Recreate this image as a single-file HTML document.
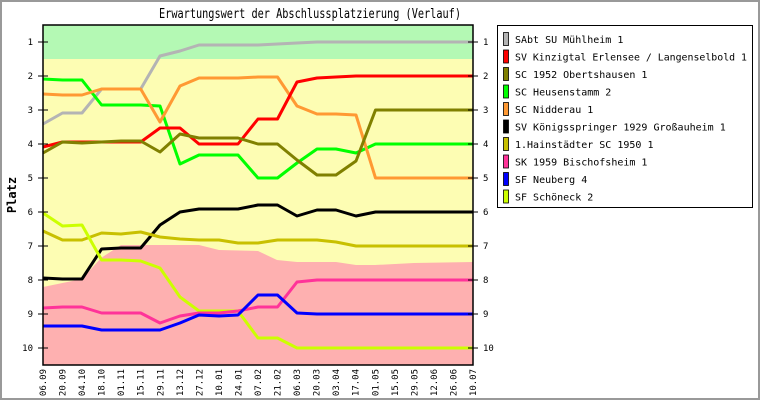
<!DOCTYPE html>
<html><head><meta charset="utf-8"><style>
html,body{margin:0;padding:0;background:#fff}
svg{display:block;font-family:"DejaVu Sans Mono","Liberation Mono",monospace}
</style></head><body>
<svg width="760" height="400" viewBox="0 0 760 400" xmlns="http://www.w3.org/2000/svg">
<rect x="1" y="1" width="758" height="398" fill="#fff" stroke="#999" stroke-width="2"/>
<text x="159" y="18" font-size="13" textLength="302" lengthAdjust="spacingAndGlyphs">Erwartungswert der Abschlussplatzierung (Verlauf)</text>
<rect x="43" y="25" width="430" height="340" fill="#fdfdb3"/>
<rect x="43" y="25" width="430" height="34" fill="#b4f9b4"/>
<polygon fill="#feb0b0" points="43,287 82,279 101,258 121,245 199,245 219,250 258,251 277,260 297,262 336,262 356,265 375,265 414,263 473,262 473,365 43,365"/>
<g fill="none" stroke-width="3" stroke-linejoin="round">
<polyline stroke="#b4b4b4" points="43,124 62.5,113 82,113 101.6,89 121,89 140.7,89 160,56 180,51 199,45 219,45 238,45 258,45 277.5,44 297,43 317,42 336,42 356,42 375.5,42 395,42 414.5,42 434,42 453.5,42 473,42"/>
<polyline stroke="#00ff00" points="43,79 62.5,80 82,80 101.6,105 121,105 140.7,105 160,106 180,164 199,155 219,155 238,155 258,178 277.5,178 297,163 317,149 336,149 356,153 375.5,144 395,144 414.5,144 434,144 453.5,144 473,144"/>
<polyline stroke="#ff9933" points="43,94 62.5,95 82,95 101.6,89 121,89 140.7,89 160,122 180,86 199,78 219,78 238,78 258,77 277.5,77 297,106 317,114 336,114 356,115 375.5,178 395,178 414.5,178 434,178 453.5,178 473,178"/>
<polyline stroke="#ff0000" points="43,147 62.5,142 82,142 101.6,142 121,142 140.7,142 160,128 180,128 199,144 219,144 238,144 258,119 277.5,119 297,82 317,78 336,77 356,76 375.5,76 395,76 414.5,76 434,76 453.5,76 473,76"/>
<polyline stroke="#808000" points="43,153 62.5,142 82,143 101.6,142 121,141 140.7,141 160,152 180,134 199,138 219,138 238,138 258,144 277.5,144 297,160 317,175 336,175 356,161 375.5,110 395,110 414.5,110 434,110 453.5,110 473,110"/>
<polyline stroke="#000000" points="43,278 62.5,279 82,279 101.6,249 121,248 140.7,248 160,225 180,212 199,209 219,209 238,209 258,205 277.5,205 297,216 317,210 336,210 356,216 375.5,212 395,212 414.5,212 434,212 453.5,212 473,212"/>
<polyline stroke="#c8c000" points="43,231 62.5,240 82,240 101.6,233 121,234 140.7,232 160,237 180,239 199,240 219,240 238,243 258,243 277.5,240 297,240 317,240 336,242 356,246 375.5,246 395,246 414.5,246 434,246 453.5,246 473,246"/>
<polyline stroke="#ccff00" points="43,213 62.5,226 82,225 101.6,260 121,260 140.7,261 160,268 180,297 199,311 219,311 238,311 258,338 277.5,338 297,348 317,348 336,348 356,348 375.5,348 395,348 414.5,348 434,348 453.5,348 473,348"/>
<polyline stroke="#ff3399" points="43,308 62.5,307 82,307 101.6,313 121,313 140.7,313 160,323 180,316 199,313 219,313 238,311 258,307 277.5,307 297,282 317,280 336,280 356,280 375.5,280 395,280 414.5,280 434,280 453.5,280 473,280"/>
<polyline stroke="#0000ff" points="43,326 62.5,326 82,326 101.6,330 121,330 140.7,330 160,330 180,323 199,315 219,316 238,315 258,295 277.5,295 297,313 317,314 336,314 356,314 375.5,314 395,314 414.5,314 434,314 453.5,314 473,314"/>
</g>
<rect x="43" y="25" width="430" height="340" fill="none" stroke="#000" stroke-width="1.5"/>
<g stroke="#000" stroke-width="1">
<path d="M38,42H48M38,76H48M38,110H48M38,144H48M38,178H48M38,212H48M38,246H48M38,280H48M38,314H48M38,348H48"/>
<path d="M468,42H478M468,76H478M468,110H478M468,144H478M468,178H478M468,212H478M468,246H478M468,280H478M468,314H478M468,348H478"/>
</g>
<g font-size="9" text-anchor="end">
<text x="33" y="45">1</text><text x="33" y="79">2</text><text x="33" y="113">3</text><text x="33" y="147">4</text><text x="33" y="181">5</text><text x="33" y="215">6</text><text x="33" y="249">7</text><text x="33" y="283">8</text><text x="33" y="317">9</text><text x="33" y="351">10</text>
</g>
<g font-size="9">
<text x="483" y="45">1</text><text x="483" y="79">2</text><text x="483" y="113">3</text><text x="483" y="147">4</text><text x="483" y="181">5</text><text x="483" y="215">6</text><text x="483" y="249">7</text><text x="483" y="283">8</text><text x="483" y="317">9</text><text x="483" y="351">10</text>
</g>
<text transform="translate(16,195) rotate(-90)" font-size="12" font-weight="bold" text-anchor="middle">Platz</text>
<g font-size="9" text-anchor="end">
<text transform="translate(46,369) rotate(-90)">06.09</text>
<text transform="translate(65.5,369) rotate(-90)">20.09</text>
<text transform="translate(85,369) rotate(-90)">04.10</text>
<text transform="translate(104.6,369) rotate(-90)">18.10</text>
<text transform="translate(124.2,369) rotate(-90)">01.11</text>
<text transform="translate(143.7,369) rotate(-90)">15.11</text>
<text transform="translate(163.3,369) rotate(-90)">29.11</text>
<text transform="translate(182.8,369) rotate(-90)">13.12</text>
<text transform="translate(202.4,369) rotate(-90)">27.12</text>
<text transform="translate(221.9,369) rotate(-90)">10.01</text>
<text transform="translate(241.5,369) rotate(-90)">24.01</text>
<text transform="translate(261,369) rotate(-90)">07.02</text>
<text transform="translate(280.5,369) rotate(-90)">21.02</text>
<text transform="translate(300.1,369) rotate(-90)">06.03</text>
<text transform="translate(319.6,369) rotate(-90)">20.03</text>
<text transform="translate(339.2,369) rotate(-90)">03.04</text>
<text transform="translate(358.7,369) rotate(-90)">17.04</text>
<text transform="translate(378.3,369) rotate(-90)">01.05</text>
<text transform="translate(397.8,369) rotate(-90)">15.05</text>
<text transform="translate(417.4,369) rotate(-90)">29.05</text>
<text transform="translate(436.9,369) rotate(-90)">12.06</text>
<text transform="translate(456.5,369) rotate(-90)">26.06</text>
<text transform="translate(476,369) rotate(-90)">10.07</text>
</g>
<rect x="497.5" y="25.5" width="255" height="182" fill="#fff" stroke="#000"/>
<g stroke="#000" stroke-width="0.8">
<rect x="503.5" y="32.5" width="5" height="13" fill="#b4b4b4"/>
<rect x="503.5" y="50" width="5" height="13" fill="#ff0000"/>
<rect x="503.5" y="67.5" width="5" height="13" fill="#808000"/>
<rect x="503.5" y="85" width="5" height="13" fill="#00ff00"/>
<rect x="503.5" y="102.5" width="5" height="13" fill="#ff9933"/>
<rect x="503.5" y="120" width="5" height="13" fill="#000000"/>
<rect x="503.5" y="137.5" width="5" height="13" fill="#c8c000"/>
<rect x="503.5" y="155" width="5" height="13" fill="#ff3399"/>
<rect x="503.5" y="172.5" width="5" height="13" fill="#0000ff"/>
<rect x="503.5" y="190" width="5" height="13" fill="#ccff00"/>
</g>
<g font-size="10">
<text x="515" y="43">SAbt SU Mühlheim 1</text>
<text x="515" y="60.5" textLength="232" lengthAdjust="spacingAndGlyphs">SV Kinzigtal Erlensee / Langenselbold 1</text>
<text x="515" y="78">SC 1952 Obertshausen 1</text>
<text x="515" y="95.5">SC Heusenstamm 2</text>
<text x="515" y="113">SC Nidderau 1</text>
<text x="515" y="130.5">SV Königsspringer 1929 Großauheim 1</text>
<text x="515" y="148">1.Hainstädter SC 1950 1</text>
<text x="515" y="165.5">SK 1959 Bischofsheim 1</text>
<text x="515" y="183">SF Neuberg 4</text>
<text x="515" y="200.5">SF Schöneck 2</text>
</g>
</svg>
</body></html>
